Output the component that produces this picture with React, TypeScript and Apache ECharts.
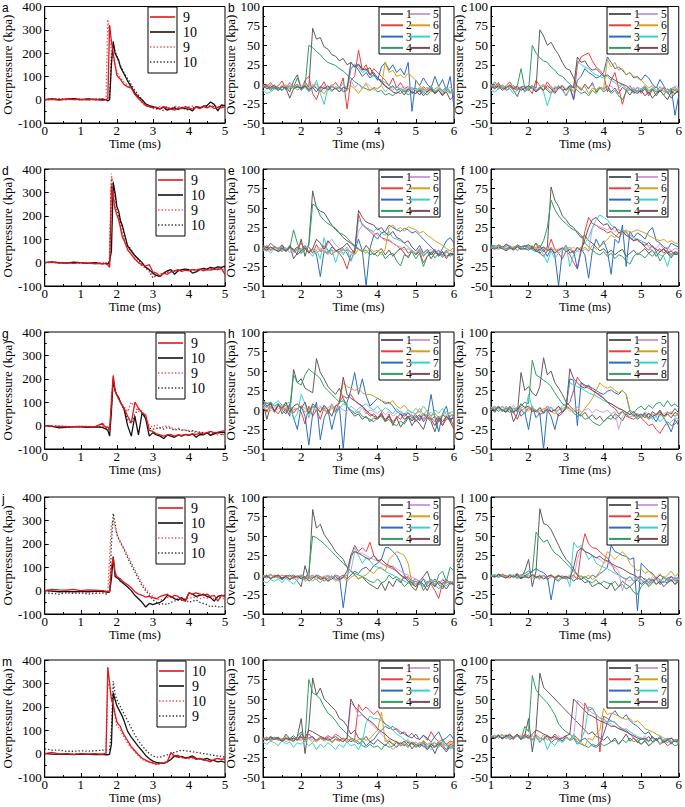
import React, { useEffect, useRef } from "react";
import * as echarts from "echarts";

// ---------- time samples ----------
const TA = [0,0.2,0.4,0.6,0.8,1,1.2,1.4,1.6,1.7,1.75,1.8,1.85,1.9,1.95,2,2.05,2.1,2.15,2.2,2.3,2.4,2.5,2.6,2.7,2.8,2.9,3,3.1,3.2,3.3,3.4,3.5,3.6,3.7,3.8,3.9,4,4.1,4.2,4.3,4.4,4.5,4.6,4.7,4.8,4.9,5];
const TB = [1,1.1,1.2,1.3,1.4,1.5,1.6,1.7,1.8,1.9,2,2.1,2.2,2.3,2.4,2.5,2.6,2.7,2.8,2.9,3,3.1,3.2,3.3,3.4,3.5,3.6,3.7,3.8,3.9,4,4.1,4.2,4.3,4.4,4.5,4.6,4.7,4.8,4.9,5,5.1,5.2,5.3,5.4,5.5,5.6,5.7,5.8,5.9,6];

// ---------- column 1 panels (a, d, g, j, m): red solid, black solid, red dotted, black dotted ----------
const A_RS = [0,2,-2,3,0,1,-1,2,-3, 0,5,320,250,200,150,105,95,88,75,65, 55,50,22,5,-10,-25,-30,-35,-32,-38,-30,-35,-40,-45,-35,-38,-30,-35,-40,-32,-38,-30,-35,-28,-38,-32,-35,-30];
const A_BS = [0,3,0,2,5,0,3,0,2, 0,-5,0,150,250,200,185,170,140,125,110, 80,55,28,12,0,-18,-25,-30,-35,-40,-32,-45,-38,-35,-42,-35,-38,-40,-48,-30,-35,-28,-25,-10,-20,-48,-22,-25];
const A_RD = [0,2,5,0,3,-2,5,0,2, 0,345,260,210,180,150,120,105,95,85,75, 62,52,30,10,-15,-25,-32,-30,-35,-28,-32,-30,-38,-30,-28,-32,-35,-30,-28,-32,-30,-35,-30,-28,-25,-30,-28,-32];
const A_BD = [0,2,3,0,4,2,0,3,1, 0,2,10,200,240,210,185,165,145,130,115, 90,65,40,20,0,-20,-30,-35,-40,-38,-48,-35,-40,-32,-38,-35,-40,-45,-35,-30,-35,-28,-30,-25,-30,-35,-28,-25];

const D_RS = [0,2,-2,0,-3,0,-2,-5,-3, -5,-10,-20,330,280,230,205,185,150,110,95, 55,35,15,0,-10,-15,-8,-40,-45,-58,-45,-50,-40,-35,-30,-38,-32,-35,-30,-32,-28,-35,-30,-32,-28,-30,-25,-50];
const D_BS = [0,3,0,-2,2,0,-3,0,-5, -2,-8,5,50,340,300,240,220,180,160,130, 70,50,30,15,0,-20,-30,-45,-55,-60,-45,-35,-30,-50,-35,-30,-28,-30,-45,-40,-30,-25,-28,-20,-25,-18,-20,-15];
const D_RD = [0,0,-2,0,-1,-3,0,-2,-4, -3,-5,20,380,300,240,200,180,150,120,100, 70,45,20,0,-15,-25,-40,-50,-55,-50,-45,-40,-35,-38,-30,-32,-28,-35,-30,-33,-28,-30,-32,-28,-30,-26,-28,-30];
const D_BD = [0,2,0,-1,0,-2,-1,-3,-2, -4,-6,10,360,345,280,230,200,170,140,115, 75,55,30,10,-5,-20,-35,-65,-55,-50,-45,-42,-38,-35,-32,-35,-30,-30,-32,-28,-30,-28,-26,-28,-25,-26,-24,-22];

const G_RS = [0,-2,-3,-5,-5,-3,-5,-4,10, -10,-5,-20,100,215,150,130,115,100,85,75, 40,10,100,75,55,45,-20,-25,-35,-40,-45,-40,-38,-45,-40,-42,-38,-40,-35,-38,-32,-35,-30,-25,-30,-28,-25,-22];
const G_BS = [0,-3,-10,-8,-5,-5,-8,-5,-8, -15,-20,-45,60,200,150,130,120,100,85,70, 0,-45,40,-40,55,30,-45,-30,-40,-45,-55,-40,-45,-50,-40,-45,-38,-42,-35,-50,-38,-40,-30,-42,-35,-30,-28,-30];
const G_RD = [0,0,-2,-3,-4,-3,-4,-5,0, -5,-8,-15,120,205,160,135,120,100,90,80, 60,100,80,60,50,40,0,-5,5,-10,-5,0,-8,-15,-12,-20,-18,-22,-25,-30,-28,-35,-30,-38,-35,-40,-35,-40];
const G_BD = [0,-2,-3,-5,-4,-5,-6,-4,-5, -8,-10,-20,80,190,150,130,115,100,85,72, 25,10,50,70,60,30,-10,-15,-12,-10,-15,-8,-12,-20,-15,-18,-20,-25,-22,-25,-28,-30,-32,-28,-35,-30,-38,-35];

const J_RS = [0,5,3,2,5,0,3,2,0, -2,-5,-5,100,140,80,60,55,50,42,35, 25,12,-5,-15,-20,-28,-25,-30,-35,-25,-20,-15,-30,-20,-25,-40,-45,-10,-15,-10,-15,-20,-15,-25,-20,-45,-20,-25];
const J_BS = [0,-2,-5,-3,-5,-3,-5,-2,-3, -5,-8,-5,50,145,60,55,50,40,35,28, 15,0,-20,-35,-50,-70,-55,-60,-55,-50,-40,-20,-25,-35,-40,-30,-45,-10,-15,-25,-20,-15,-25,-30,-45,-25,-20,-22];
const J_RD = [-5,-3,-5,-8,-5,-6,-5,-8,-5, -10,-8,150,280,300,270,245,225,210,195,180, 150,120,90,60,30,10,-10,-25,-35,-40,-38,-30,-28,-32,-35,-30,-35,-32,-30,-28,-35,-30,-32,-28,-35,-30,-33,-35];
const J_BD = [-10,-12,-15,-10,-12,-10,-15,-12,-10, -15,-12,-5,200,330,290,240,220,205,190,175, 140,110,80,50,20,0,-20,-40,-50,-60,-55,-60,-50,-45,-40,-42,-38,-50,-45,-40,-50,-55,-60,-70,-65,-70,-68,-70];

const M_RS = [0,5,-2,0,-3,0,-2,0,-3, 2,370,300,230,210,170,135,125,115,95,80, 55,30,12,-5,-20,-28,-35,-40,-45,-42,-40,-35,5,-10,-8,-15,-20,-18,-15,-25,-20,-28,-30,-35,-25,-20,-25,-22];
const M_BS = [0,-2,-3,-2,-4,-2,-3,-4,-3, -5,-5,-2,40,260,230,205,190,175,160,140, 95,70,50,30,12,-8,-22,-32,-38,-40,-42,-35,-25,-10,-15,-12,-18,-15,-10,-20,-22,-25,-20,-28,-30,-35,-32,-38];
const M_RD = [0,2,0,-2,0,-3,0,-2,0, 0,300,280,240,200,160,120,110,100,85,70, 45,25,8,-10,-25,-32,-38,-42,-48,-45,-40,-35,-10,-12,-15,-18,-20,-22,-20,-25,-22,-28,-25,-30,-25,-22,-25,-20];
const M_BD = [20,15,15,10,10,12,10,12,15, 15,15,18,100,310,255,230,215,200,185,170, 140,110,80,55,35,15,0,-10,-15,-15,-10,-5,0,5,10,15,12,10,8,5,3,0,-2,-5,-8,-10,-12,-15];

// ---------- multi-gauge panels: series 1..8 ----------
const B1 = [-3,-5,-2,-6,-4,-8,-3,-10,4,12, -6,3,-4,72,58,60,48,45,38,36, 30,33,25,28,22,26,20,18,21,12, 8,2,-3,-6,-2,-8,-5,-10,-6,-12, -8,-14,-6,-10,-4,-12,-8,-15,-6,-10, -5];
const B2 = [0,-3,2,-5,-2,4,-6,2,-4,0, -8,5,10,-12,-20,-5,3,-8,-3,2, -5,8,-32,5,10,44,18,25,12,20, 15,10,5,-2,8,-5,2,-6,-3,-8, -5,-10,-3,-8,-2,-12,-5,-8,-4,-10, -6];
const B3 = [-5,-2,-8,-4,-6,-3,-7,-2,-5,-4, -6,-3,-8,-2,-5,-10,-4,-8,-3,-6, -4,-10,-8,20,25,18,10,15,8,12, 5,22,28,18,25,15,20,12,28,-35, 5,-2,8,0,-5,10,-3,6,-8,10, -30];
const B4 = [-4,-2,-6,-3,-5,-8,-2,-6,-4,8, -5,-3,50,47,42,38,32,28,26,24, 20,17,12,8,3,0,-4,-6,-8,-5, -10,-8,-14,-12,-15,-10,-12,-8,-14,-10, -12,-6,-10,-14,-8,-12,-6,-10,-8,-12, -6];
const B5 = [-2,-5,0,-3,-6,-1,-4,2,-5,-2, -3,2,-6,0,-4,-8,-2,-5,0,-6, -3,-8,-2,5,-4,0,-6,2,-3,-8, -5,-2,-10,-4,-8,-2,-6,-3,-9,-5, -8,-4,-10,-6,-3,-9,-5,-12,-7,-4, -8];
const B6 = [-3,0,-5,-2,-6,-3,-1,-5,-2,-8, -4,-1,-6,-3,0,-8,-12,-5,-2,-6, -10,-4,-8,-2,-6,-12,-5,0,-8,-4, -6,-2,28,15,18,10,12,8,14,10, 5,-2,-8,-4,-10,-6,-3,-8,-5,-10, -6];
const B7 = [-8,-12,-10,-6,-8,-4,-6,-3,-5,-2, -8,-4,-10,-6,5,-12,-26,-5,-10,-3, -6,2,-8,20,26,22,15,18,12,10, 8,5,2,-2,-5,-3,-8,-6,-10,-4, -8,-5,-12,-6,-3,-10,-6,-8,-4,-10, -8];
const B8 = [-2,-6,-4,-1,-8,-3,-5,-18,-6,-3, -5,-2,-8,-4,-10,-3,-6,-2,-8,-5, -10,-4,-6,28,22,25,18,20,12,15, 8,4,-2,-6,-10,-12,-8,-14,-6,-10, -12,-8,-15,-10,-6,-12,-8,-14,-10,-20, -15];

const C1 = [-2,-5,0,-4,-6,-2,-8,-16,-4,-2, -8,-3,-5,70,62,50,54,45,38,28, 20,18,8,-3,-8,0,-6,2,-10,-4, -6,-2,-10,-5,-12,-4,-8,-14,-6,-10, -8,-3,-12,-6,-15,-8,-4,-10,-18,-12, -8];
const C2 = [0,-4,2,-6,-2,3,-5,-8,-3,-10, -6,-12,5,-2,-8,3,-4,-10,-2,-6, -15,-5,-20,25,35,38,40,30,22,18, 12,-10,5,15,-5,-26,-8,-2,-10,-4, -12,-6,-15,-8,-3,-10,-5,-12,-8,-6, -10];
const C3 = [-4,-2,-6,-3,-8,-5,-2,-6,-4,-8, -5,-3,-10,-6,-2,-8,-12,-5,-3,-8, -6,-2,-20,5,10,20,15,12,8,10, 15,35,28,20,22,18,12,15,8,10, 5,12,8,0,-5,6,-2,-10,-5,-40, -15];
const C4 = [-2,3,-4,-1,-5,-3,-6,-2,20,-5, -8,50,40,34,30,28,22,18,12,10, 5,0,-4,-8,-12,-10,-15,-8,-12,-5, -10,-6,-12,-8,-15,-20,-10,-6,-12,-8, -10,-4,-12,-6,-10,-8,-14,-6,-10,-8, -12];
const C5 = [-3,0,-5,-2,-6,-1,-4,-3,-7,-2, -5,-1,-8,-3,0,-6,-2,-9,-4,-1, -6,-3,-8,-2,-5,-10,-4,-1,-7,-3, -8,-4,-2,-9,-5,-1,-6,-3,-8,-4, -6,-2,-9,-5,-3,-8,-4,-10,-6,-2, -5];
const C6 = [-2,-5,-1,-4,-6,-2,-8,-3,-5,-10, -4,-2,-8,-6,-1,-5,-10,-3,-6,-2, -8,-4,-10,-2,-6,-3,-12,-5,-8,-4, -6,32,22,28,18,20,12,15,10,8, 5,0,-5,-2,-8,-4,-10,-6,-12,-8, -6];
const C7 = [-8,-10,-6,-4,-8,-6,-12,-8,-5,-10, -6,-3,-8,-5,-10,-28,-12,-6,-2,-8, -15,-5,-3,30,25,22,20,15,12,10, 8,10,5,2,-2,0,-5,-8,-4,-10, -6,-2,-8,-5,-10,-3,-8,-12,-6,-4, -8];
const C8 = [-3,-6,-2,-8,-4,-1,-6,-3,-8,-5, -2,-6,-10,-4,-8,-2,-6,-12,-5,-3, -8,-2,-5,35,28,30,22,18,20,15, 10,12,8,5,2,0,-2,-6,-10,-12, -8,-15,-10,-18,-12,-8,-14,-20,-10,-12, -8];

const E1 = [-2,0,-4,1,-3,-1,-5,2,-15,-8, 10,-12,5,72,50,46,44,36,28,22, 18,12,8,5,0,-3,-6,2,-4,-10, -6,-2,-10,-4,-12,-6,-2,-8,-14,-5, -10,-3,-12,-6,-15,-8,-4,-12,-6,-10, -8];
const E2 = [-3,2,-5,0,-2,3,-4,1,-6,-2, 5,-3,0,-8,3,-6,2,-4,-10,-5, -8,-15,-28,-10,-5,42,28,24,20,15, 18,12,10,8,5,2,-3,0,-8,-5, -10,-6,-20,-12,-8,-3,-10,-6,-12,-8, -10];
const E3 = [3,-2,5,0,-3,2,-5,1,-4,0, -3,2,-6,-2,-10,-38,-5,-8,0,-4, -6,-2,-8,-18,-5,10,-5,-50,-2,15, 10,18,20,28,25,22,20,24,22,18, 20,15,10,5,0,-5,-10,-2,8,12, 5];
const E4 = [-2,-4,0,-3,-5,-1,-6,-2,22,5, -8,-4,2,55,52,40,34,30,27,24, 18,16,12,6,2,-2,-6,-4,-10,-8, -12,-6,-15,-10,-8,-18,-24,-10,-12,-6, -15,-8,-25,-12,-6,-14,-8,-10,-4,-12, -8];
const E5 = [-2,-6,-1,-4,0,-5,-3,-2,-8,-4, -6,-2,0,-5,-3,-1,-8,5,10,3, -2,-5,0,-8,-3,20,28,25,22,18, 15,12,8,10,5,2,0,-4,-2,-6, -8,-4,-10,-6,-3,-8,-5,-12,-6,-4, -8];
const E6 = [0,-2,-4,1,-3,-6,-2,-1,-5,-3, -4,0,-6,-2,-8,-3,-5,-10,-4,-6, -2,-8,-4,-6,-10,-3,-5,-8,-2,-6, -4,-10,-3,25,28,22,25,20,26,24, 22,18,20,15,12,8,5,2,-2,-5, 0];
const E7 = [-5,-3,-8,-2,-6,-4,-1,-7,-3,-5, -8,-2,-6,-12,-4,-15,12,-8,-3,-20, -5,-10,-2,-18,-6,35,30,25,22,20, 25,18,15,20,12,10,8,5,0,-4, -8,-2,-12,-6,-10,-4,-8,-14,-6,-10, -12];
const E8 = [-1,-4,0,-3,-6,-2,-5,0,-3,-10, -5,-1,-8,-2,10,5,-3,8,2,-5, -3,0,5,-2,-8,47,38,32,30,28, 22,25,18,15,20,12,10,5,8,0, -5,2,-8,-3,-10,-5,-12,-6,-15,-8, -10];

const F1 = [2,-1,3,0,-2,1,-3,2,0,-2, 3,-1,-4,2,-6,0,77,60,52,40, 35,28,25,18,12,15,8,5,0,-5, -2,-8,-4,-10,-6,-3,-12,-8,-4,-10, -6,-2,-8,-4,-12,-6,-3,-8,-14,-6, -8];
const F2 = [1,-2,2,-1,3,0,-2,1,-3,2, 0,-3,5,-8,-12,-5,10,-3,-8,-15, -5,-10,-20,-28,-5,20,38,30,28,24, 22,18,20,15,12,18,20,12,8,10, 5,0,-4,2,-6,-2,-8,-4,-10,-6, -8];
const F3 = [3,0,2,-1,4,1,-2,3,0,2, -2,1,-5,-8,-3,-12,-2,-10,-50,-5, 2,-8,-5,-28,-2,-10,-40,-5,10,0, 8,-5,-35,10,5,28,-25,20,12,18, 15,10,20,25,8,5,0,-3,5,2, 0];
const F4 = [0,2,-2,1,-3,0,-1,2,-2,1, 3,-2,5,-1,8,25,60,48,40,34, 30,25,22,20,15,5,0,-4,-8,-10, -6,-12,-8,-15,-10,-12,-18,-22,-12,-8, -10,-14,-8,-12,-6,-18,-10,-6,-12,-8, -10];
const F5 = [-1,1,-2,0,-3,2,-1,-4,0,-2, 1,-3,0,-5,-2,-4,0,-6,-2,-4, -1,-3,0,-5,-8,-2,-6,25,28,26, 24,22,25,20,22,18,15,12,10,8, 5,6,2,0,-2,4,-3,0,-5,-2, -3];
const F6 = [0,-1,2,-2,1,-3,0,2,-1,-3, 0,2,-2,-4,0,-3,-6,-2,-5,-1, -3,0,-6,-2,-4,0,-5,2,-3,0, 5,10,15,12,18,20,22,18,20,22, 20,18,15,12,10,8,10,6,8,5, 4];
const F7 = [-2,0,-3,-1,-4,-2,0,-5,-1,-3, 0,-4,-6,-2,-10,-20,-5,-15,-8,-3, 2,-25,-10,-5,0,5,12,25,35,41, 38,35,28,25,22,20,18,15,12,10, 8,5,0,-5,-8,-10,-12,-25,-8,-10, -5];
const F8 = [-1,-3,0,-2,-5,-1,-4,0,-3,-2, -4,-1,-6,-3,0,-5,-2,-8,-4,-1, -6,-3,-8,0,-5,10,25,35,38,32, 28,30,22,26,18,20,15,12,8,10, 5,2,6,0,-3,-6,-2,-8,-5,-10, -8];

const H1 = [10,-12,5,-3,8,-5,2,-8,52,35, 40,28,25,22,66,48,40,30,25,20, 28,15,5,-2,-8,-5,-12,-8,-15,-10, -12,-5,-15,-8,-18,-10,-22,-15,-8,-20, -12,-18,-25,-10,-15,-28,-12,-20,-8,-15, -25];
const H2 = [5,-3,8,0,-5,3,-2,6,-4,2, -3,-18,5,-8,0,-12,3,-5,8,-2, 10,18,15,20,12,8,5,-2,-8,-5, -10,-3,-15,-5,-20,-8,-12,-4,-10,-6, -15,-8,-12,-5,-10,-15,-8,-20,-12,-10, -22];
const H3 = [8,3,10,-2,6,0,-5,8,-10,-25, 5,-8,-45,-5,10,-38,-10,0,-25,-5, 5,-50,10,25,48,20,40,18,5,10, 15,12,8,10,5,-2,-5,-8,-4,-10, -6,-12,-5,-8,20,-10,-28,-5,5,-15, -5];
const H4 = [12,8,10,5,8,3,6,2,45,35, 32,45,53,48,45,40,30,25,20,15, 10,12,5,0,-5,-2,-8,-10,-12,-15, -10,-8,-15,-12,-18,-20,-14,-18,-10,-12, -8,-14,-6,-10,-12,-8,-15,-6,-10,-8, -5];
const H5 = [2,5,-1,3,6,0,4,-2,3,1, 6,2,-3,4,0,5,-1,3,7,2, 4,0,-2,5,1,-3,3,-5,0,-2, -4,0,-6,-2,-8,-4,-1,-6,-3,-8, -5,-2,-10,-6,-3,-8,-12,-5,-8,-4, -10];
const H6 = [3,0,5,-2,2,6,-1,4,0,2, 5,-3,1,4,-2,3,0,-4,2,5, 8,35,30,28,25,28,22,20,20,18, 15,12,10,8,12,5,2,6,0,-3, -5,2,-6,0,-8,-4,-10,-6,-2,-8, -5];
const H7 = [5,10,3,8,12,6,8,10,-12,-5, 20,8,-10,5,3,-2,6,0,4,-5, 2,8,5,0,-3,2,5,8,3,0, 5,-2,3,0,-5,2,-3,-6,0,-4, 2,-3,5,-2,-8,0,-4,2,-6,-3, -2];
const H8 = [12,5,8,-2,6,2,10,-3,5,8, 2,10,-5,8,3,-3,6,0,-8,5, 10,42,20,15,12,8,5,0,-5,-8, -10,-6,-12,-8,-15,-10,-5,-12,-8,-14, -10,-6,-15,-8,-12,-20,-10,-15,-8,-12, -10];

const I1 = [2,-3,4,0,-2,3,-15,-5,48,25, 30,22,18,30,67,45,50,35,28,20, 10,5,0,-4,-8,-3,-10,-6,-12,-8, -15,-10,-6,-12,-8,-14,-5,-10,-6,-12, -8,-4,-10,-2,-6,0,-8,-3,-5,2, -4];
const I2 = [2,-1,3,0,-2,1,-3,-12,0,-5, 3,-2,0,-6,-3,5,-2,0,-8,-4, 5,10,25,42,35,30,28,25,22,20, 15,10,5,2,-5,-2,-8,-10,-12,-8, -10,-15,-20,-18,-25,-30,-22,-15,-20,-18, -12];
const I3 = [3,0,5,-2,2,0,-4,3,-8,-3, -25,5,-10,-4,-50,0,-8,-25,-5,-2, 2,40,38,-20,35,32,30,28,25,22, 20,24,26,22,20,25,20,-2,-8,-5, -10,-6,-12,-8,-15,-5,-10,-18,-28,-12, -20];
const I4 = [0,3,-2,5,0,-3,2,0,5,10, 8,64,45,42,38,35,30,22,15,8, 5,2,-4,-8,-6,-12,-10,-15,-18,-20, -15,-10,-12,-5,-8,-2,-6,0,-4,2, 5,0,6,2,8,10,4,12,5,8, 3];
const I5 = [3,5,1,4,0,2,6,-1,3,5, 1,4,-2,3,0,5,2,-1,4,0, 3,-2,1,4,-3,0,2,-4,1,-2, -3,0,-5,-2,-25,-8,-3,-10,-6,-4, -8,-2,-6,-10,-4,-8,-5,-2,-6,-8, -4];
const I6 = [4,2,5,0,3,1,-2,4,0,2, -1,3,0,-3,2,0,-2,-5,0,2, 4,1,-2,0,-5,2,8,15,25,35, 30,28,30,25,22,25,20,0,-5,-8, -10,-6,-12,-5,-8,-3,-10,-6,-2,-8, -6];
const I7 = [0,4,2,-2,5,0,3,-3,2,-5, 20,2,-3,0,-5,2,4,-2,0,5, 8,35,32,30,28,25,22,20,18,15, 12,10,8,5,2,0,-3,-5,-8,-10, -6,-10,-5,-12,-8,-15,-10,-20,-15,-10, -12];
const I8 = [2,-1,4,0,-3,5,-2,0,8,3, 5,0,-2,3,-4,1,-2,0,5,-3, 2,53,40,35,30,28,32,25,22,18, 15,10,8,5,2,0,-3,-6,-2,-8, -5,-10,-4,-8,-6,-2,-8,-5,-10,-3, -6];

const K1 = [-2,0,-4,-1,-3,-6,-2,-5,-3,-8, -15,12,-5,84,60,65,52,45,38,30, 25,20,10,5,0,-5,-2,-8,-12,-15, -18,-10,-20,-8,-15,-5,-10,-2,-8,-15, -20,-8,-2,5,-10,-5,-12,-18,-6,-10, -8];
const K2 = [-3,-1,-5,0,-2,-4,0,-6,-2,-4, -1,-5,-3,0,-6,-2,-8,-4,-1,-6, -3,0,-5,25,38,30,35,30,42,25, 20,15,12,10,8,5,0,-5,-2,-8, -5,-10,-15,-8,-12,-20,-30,-10,-8,-12, -10];
const K3 = [-2,-4,0,-3,-1,-5,-2,0,-4,-2, 0,-3,-1,-4,0,-2,-5,-1,-3,0, -2,-42,-5,0,5,2,8,10,5,12, 15,20,35,35,30,25,15,0,-5,-10, -8,-12,-5,-15,-10,-8,-12,-6,-10,-8, -12];
const K4 = [0,-2,1,-3,0,-4,-1,-2,0,-3, -1,-5,5,50,48,44,40,35,30,25, 20,15,10,5,2,0,-2,-5,-8,-10, -5,-10,-8,0,-5,-2,-8,-15,-10,-12, -15,-8,-20,-12,-5,-15,0,5,-8,10, 5];
const K5 = [-1,-3,0,-2,-4,0,-3,-1,-5,-2, 0,-4,-1,-3,0,-5,-2,0,-3,-1, -2,-4,0,5,30,28,28,25,22,20, 18,15,12,10,12,8,5,2,0,-3, -5,-8,-4,-10,-6,-8,-12,-5,-8,-10, -8];
const K6 = [-2,0,-4,-1,-3,0,-2,-5,-1,-3, -4,-6,-2,-8,-3,-5,-1,-6,-3,-8, -5,-2,-8,-3,0,-5,-2,0,5,2, 8,10,5,20,25,30,28,25,15,-10, -12,-8,-15,-10,-6,-12,-8,-15,-10,-8, -12];
const K7 = [-8,-10,-6,-8,-5,-10,-4,-8,-12,-6, -3,-8,-5,-2,-6,-10,-4,-8,-2,-5, -8,-3,0,20,35,25,15,22,18,12, 10,8,5,2,0,-3,-5,-8,-10,-6, -12,-8,-15,-10,-6,-12,-18,-10,-14,-8, -15];
const K8 = [-3,-1,-5,-2,0,-4,-2,-6,-3,-1, -5,-2,-8,-4,-1,-6,-3,-8,-5,-2, -6,-3,5,25,30,28,25,22,20,25, 18,20,15,12,10,5,0,-3,-8,-10, -15,-8,-12,-20,-10,-15,-8,-12,-18,-10, -12];

const L1 = [0,-2,1,-1,-3,0,-2,2,-4,5, 20,-15,5,85,66,64,58,48,38,28, 20,15,8,0,-5,-10,-8,-15,-12,-10, -15,-18,-10,-20,-15,-8,-12,-15,-10,-6, -12,-8,-15,-10,-5,-12,-8,-10,-6,-12, -5];
const L2 = [-2,0,-3,1,-1,-4,0,-2,-5,0, -3,1,-2,-4,0,-6,-2,-3,0,-5, -2,-4,0,-6,30,53,40,35,34,30, 25,22,15,5,0,-3,-6,-2,-8,-4, -6,-10,-5,-8,-3,-6,-10,-4,-2,-8, -5];
const L3 = [0,-2,1,-1,-3,0,-2,1,-4,-1, 2,5,8,5,3,-2,-32,-5,-8,-3, -5,-2,-8,-4,-6,-2,-5,0,-3,2, 5,10,38,30,28,25,24,20,22,-46, 15,10,5,2,-5,0,-3,-8,-2,-5, -3];
const L4 = [-1,0,-3,1,-2,0,-1,-3,0,2, 5,3,55,48,42,45,35,28,25,20, 15,10,5,0,-2,-5,-8,-10,-6,-12, -8,-10,-12,-8,-15,-12,-18,-15,-22,-25, -15,-10,-12,-8,-5,-10,-2,-6,-8,-4, -6];
const L5 = [-1,1,-2,0,-3,-1,0,-2,1,-3, 0,-2,-4,0,-1,-3,0,-5,-2,-1, -3,0,-4,20,35,30,28,25,22,20, 15,18,12,10,5,-20,-5,-8,-3,-6, -10,-4,-8,-2,-6,-10,-4,-8,-6,-3, -5];
const L6 = [-1,0,-2,1,-3,0,-1,-4,0,-2, -3,0,-4,-1,-5,-2,0,-3,-6,-1, -4,-2,0,-5,-1,-3,0,-6,-2,5, 15,30,25,20,25,30,25,15,10,5, 8,2,5,0,-3,2,-5,0,5,-2, 3];
const L7 = [-2,0,-3,-1,-4,0,-2,-5,-1,-3, 0,-4,-2,-6,-1,-3,0,-5,-2,-4, -1,-15,42,35,38,30,20,25,15,12, 10,8,5,2,0,-3,-5,-2,-8,-4, -6,-10,-4,-8,-12,-6,-10,-3,-8,-5, -6];
const L8 = [-1,-3,0,-2,-4,-1,-3,0,-5,-2, -4,0,-3,-1,-5,-2,0,-4,-1,-3, -2,-5,10,30,35,30,28,25,22,24, 20,18,15,12,10,8,5,2,0,-3, -2,-6,-10,-5,-12,-8,-15,-10,-6,-12, -8];

const N1 = [0,-3,1,-2,0,-4,5,-1,-3,2, 25,-20,15,77,55,64,50,45,40,35, 25,22,15,5,10,0,-3,2,-5,-8, -2,-6,-10,-4,-8,-12,-6,-10,-5,-14, -8,-12,-6,-15,-10,-20,-8,-12,-18,-10, -14];
const N2 = [-1,1,-3,0,-2,-4,0,-1,-3,0, 2,-2,5,0,-3,2,-1,3,0,5, 2,-3,0,-5,-2,43,35,40,35,30, 35,25,18,15,10,12,8,5,2,6, 0,-2,4,-3,8,0,-5,-2,-8,-4, -6];
const N3 = [0,-2,2,-1,1,-3,0,-1,3,-2, 1,-3,0,2,-4,0,-2,1,-5,-1, -3,0,-6,-2,-4,-8,-3,-10,-5,-2, 5,10,15,12,15,10,5,8,2,0, 5,-2,3,0,-5,2,8,-3,0,5, -2];
const N4 = [-2,0,-3,1,-1,-4,0,-2,-5,2, 8,-3,75,58,55,50,40,32,28,22, 15,10,5,0,-2,-5,-10,-12,-8,-12, -10,-15,-8,-12,-10,-6,-10,-8,-12,-5, -8,-10,-4,-12,-8,-6,-10,-4,-8,-12, -10];
const N5 = [-2,0,-4,-1,-3,0,-5,-2,0,-3, -1,-4,0,-2,-5,-1,-3,0,-6,-2, -4,-1,-5,45,40,28,30,25,20,15, 10,5,0,-8,-15,-10,-5,-8,-12,-6, -10,-5,-8,-12,-6,-10,-4,-8,-15,-10, -12];
const N6 = [-1,1,-2,0,-3,-1,2,-4,0,-2, -3,0,-1,-5,-2,0,-4,-1,-6,-2, -4,0,-3,-1,-5,-2,0,-3,-1,5, 10,33,-5,-2,-8,-4,-10,-6,-2,-8, -5,-10,-3,-8,-6,-12,-4,-8,-10,-6, -8];
const N7 = [-5,-8,-4,-6,-10,-3,-8,-5,-12,-6, -8,-4,-10,-6,-15,-8,-12,-6,-10,-15, -8,-12,-5,-10,-8,-15,-5,20,28,25, 25,22,18,15,10,5,2,-2,-5,-8, -10,-6,-12,-8,-15,-10,-12,-6,-10,-14, -12];
const N8 = [-1,-3,0,-2,0,-4,-1,-2,0,-3, 5,0,10,8,5,2,0,-3,-1,2, -2,-5,0,50,40,35,30,25,22,18, 12,8,5,0,-3,-5,-8,-4,-10,-6, -12,-8,-10,-15,-8,-12,-6,-10,-15,-8, -10];

const O1 = [2,-1,3,0,4,-2,1,5,-1,3, 25,-18,12,83,65,60,55,50,45,40, 35,30,25,20,15,10,5,8,2,0, -3,2,-5,0,-8,-2,5,-4,0,-6, 0,-3,2,-5,0,-8,-2,-6,0,-4, -2];
const O2 = [2,0,3,-1,4,1,-2,3,0,5, 2,-3,4,0,-2,3,-1,5,0,-4, 2,-2,4,0,-5,45,35,38,30,-18, 28,25,22,20,15,12,10,5,0,-5, -8,-3,-10,-6,-2,-8,-4,-10,-6,-3, -8];
const O3 = [3,1,4,0,2,5,-1,3,1,0, 4,-2,2,-5,0,3,-6,-2,0,-4, 2,-3,0,-8,-3,0,-5,-10,-12,-8, 5,20,30,35,28,25,30,22,18,15, 10,5,8,0,-3,2,-5,0,-8,-2, -3];
const O4 = [3,0,4,-1,2,5,0,3,-2,15, 8,80,62,55,50,45,38,30,18,12, 8,5,0,-5,-8,-10,-12,-8,-10,-6, -10,-8,-5,-3,-8,-2,-6,0,-5,-2, -8,-4,-10,-6,-2,-8,-5,-3,-6,-10, -8];
const O5 = [2,4,0,3,1,5,-1,2,4,0, 3,-1,2,0,-3,1,-2,0,3,-1, 2,-2,0,48,45,40,36,32,30,26, 22,20,18,15,12,10,8,5,2,0, -2,3,-5,0,-3,-8,-2,-6,0,-4, -3];
const O6 = [3,0,2,5,-1,3,1,4,0,2, -1,3,0,-2,4,-3,0,2,-5,0, 3,-4,0,-2,-6,-10,0,-3,5,10, 38,30,32,30,28,25,24,25,20,22, 18,12,10,8,5,3,0,-2,-4,-3, -6];
const O7 = [1,3,0,4,-1,2,0,3,-2,1, 0,-3,2,-6,0,-15,-5,-10,-2,-6, 0,-3,5,-8,-2,10,40,38,30,25, 25,20,22,20,15,10,12,8,5,2, 0,-2,-5,0,-3,2,-4,0,-5,-2, -4];
const O8 = [2,0,3,-1,2,4,0,5,-2,3, 0,5,10,8,5,3,0,2,-2,0, 3,5,50,45,40,35,30,28,25,22, 20,18,15,15,12,10,8,5,3,0, -2,0,-4,2,-3,0,-6,-2,0,-5, -3];

// ---------- legend labels ----------
const LEG_9_10 = ["9", "10", "9", "10"];
const LEG_10_9 = ["10", "9", "10", "9"];
const LEG_GAUGES = ["1", "2", "3", "4", "5", "6", "7", "8"];

// ---------- layout & style ----------
const ROW_TOP = [6, 169, 332, 497, 660];
const COL_LEFT = [34, 263, 491];
const PW = 191;
const PH = 117;
const LETTER_X = [2, 228, 461];
const SERIF = "Liberation Serif";
const SANS = "Liberation Sans";

const GAUGE_COLORS = ["#5c5c5c", "#e8413c", "#2b6cc2", "#2f9e62", "#c9a0dc", "#d5a01c", "#3ccfcf", "#7c4a5a"];
const A_STYLES = [
  { color: "#e3161c", dash: null as number[] | null },
  { color: "#111111", dash: null as number[] | null },
  { color: "#ef4f4f", dash: [1.4, 2] },
  { color: "#333333", dash: [1.4, 2] },
];

const PANELS_A = [
  { row: 0, letter: "a", data: [A_RS, A_BS, A_RD, A_BD], legend: LEG_9_10, lx: 114 },
  { row: 1, letter: "d", data: [D_RS, D_BS, D_RD, D_BD], legend: LEG_9_10, lx: 122 },
  { row: 2, letter: "g", data: [G_RS, G_BS, G_RD, G_BD], legend: LEG_9_10, lx: 122 },
  { row: 3, letter: "j", data: [J_RS, J_BS, J_RD, J_BD], legend: LEG_9_10, lx: 122 },
  { row: 4, letter: "m", data: [M_RS, M_BS, M_RD, M_BD], legend: LEG_10_9, lx: 123 },
];

const PANELS_G = [
  { row: 0, col: 1, letter: "b", data: [B1, B2, B3, B4, B5, B6, B7, B8] },
  { row: 0, col: 2, letter: "c", data: [C1, C2, C3, C4, C5, C6, C7, C8] },
  { row: 1, col: 1, letter: "e", data: [E1, E2, E3, E4, E5, E6, E7, E8] },
  { row: 1, col: 2, letter: "f", data: [F1, F2, F3, F4, F5, F6, F7, F8] },
  { row: 2, col: 1, letter: "h", data: [H1, H2, H3, H4, H5, H6, H7, H8] },
  { row: 2, col: 2, letter: "i", data: [I1, I2, I3, I4, I5, I6, I7, I8] },
  { row: 3, col: 1, letter: "k", data: [K1, K2, K3, K4, K5, K6, K7, K8] },
  { row: 3, col: 2, letter: "l", data: [L1, L2, L3, L4, L5, L6, L7, L8] },
  { row: 4, col: 1, letter: "n", data: [N1, N2, N3, N4, N5, N6, N7, N8] },
  { row: 4, col: 2, letter: "o", data: [O1, O2, O3, O4, O5, O6, O7, O8] },
];

function txt(text: string, x: number, y: number, size: number, family: string) {
  return {
    type: "text", z: 101, x, y,
    style: { text, fontSize: size, fontFamily: family, fill: "#000", align: "left", verticalAlign: "middle" },
  };
}

function buildOption() {
  const grid: any[] = [];
  const xAxis: any[] = [];
  const yAxis: any[] = [];
  const series: any[] = [];
  const graphic: any[] = [];

  for (let r = 0; r < 5; r++) {
    for (let c = 0; c < 3; c++) {
      const gi = r * 3 + c;
      const isA = c === 0;
      grid.push({
        left: COL_LEFT[c], top: ROW_TOP[r], width: PW, height: PH,
        show: true, borderColor: "#000", borderWidth: 1, backgroundColor: "rgba(0,0,0,0)",
      });
      xAxis.push({
        gridIndex: gi, type: "value", min: isA ? 0 : 1, max: isA ? 5 : 6, interval: 1,
        name: "Time (ms)", nameLocation: "middle", nameGap: 11,
        nameTextStyle: { fontFamily: SERIF, fontSize: 12.5, color: "#000" },
        axisLine: { show: true, onZero: false, lineStyle: { color: "#000", width: 1 } },
        axisTick: { show: true, inside: true, length: 4, lineStyle: { color: "#000" } },
        minorTick: { show: true, splitNumber: 2, length: 2, lineStyle: { color: "#000" } },
        splitLine: { show: false },
        axisLabel: { color: "#000", fontFamily: SERIF, fontSize: 13, margin: 1 },
      });
      yAxis.push({
        gridIndex: gi, type: "value", min: isA ? -100 : -50, max: isA ? 400 : 100, interval: isA ? 100 : 25,
        name: "Overpressure (kpa)", nameLocation: "middle", nameGap: isA ? 26.5 : 25,
        nameTextStyle: { fontFamily: SERIF, fontSize: 13, color: "#000" },
        axisLine: { show: true, onZero: false, lineStyle: { color: "#000", width: 1 } },
        axisTick: { show: true, inside: true, length: 4, lineStyle: { color: "#000" } },
        minorTick: { show: true, splitNumber: 2, length: 2, lineStyle: { color: "#000" } },
        splitLine: { show: false },
        axisLabel: { color: "#000", fontFamily: SERIF, fontSize: 13, margin: 3 },
      });
    }
  }

  // column-1 panels
  PANELS_A.forEach((p) => {
    const gi = p.row * 3;
    const L = COL_LEFT[0];
    const T = ROW_TOP[p.row];
    [3, 2, 1, 0].forEach((j) => {
      const st = A_STYLES[j];
      const arr = p.data[j];
      series.push({
        type: "line", xAxisIndex: gi, yAxisIndex: gi, symbol: "none", showSymbol: false, silent: true,
        data: TA.map((t, i) => [t, arr[i]]),
        lineStyle: { color: st.color, width: 1.3, type: st.dash ? st.dash : "solid" },
        itemStyle: { color: st.color },
      });
    });
    const bx = L + p.lx;
    graphic.push({
      type: "rect", z: 100, shape: { x: bx, y: T + 1, width: 29, height: 66 },
      style: { fill: "#fff", stroke: "#000", lineWidth: 1 },
    });
    for (let j = 0; j < 4; j++) {
      const y = T + 11 + 15 * j;
      const st = A_STYLES[j];
      graphic.push({
        type: "line", z: 101, shape: { x1: bx + 2, y1: y, x2: bx + 27, y2: y },
        style: { stroke: st.color, lineWidth: 1.6, lineDash: st.dash || undefined },
      });
      graphic.push(txt(p.legend[j], bx + 35, y, 14, SERIF));
    }
    graphic.push(txt(p.letter, LETTER_X[0], T + 2, 12, SANS));
  });

  // gauge panels
  PANELS_G.forEach((p) => {
    const gi = p.row * 3 + p.col;
    const L = COL_LEFT[p.col];
    const T = ROW_TOP[p.row];
    p.data.forEach((arr, j) => {
      series.push({
        type: "line", xAxisIndex: gi, yAxisIndex: gi, symbol: "none", showSymbol: false, silent: true,
        data: TB.map((t, i) => [t, arr[i]]),
        lineStyle: { color: GAUGE_COLORS[j], width: 1 },
        itemStyle: { color: GAUGE_COLORS[j] },
      });
    });
    graphic.push({
      type: "rect", z: 100, shape: { x: L + 116, y: T + 1, width: 61, height: 47 },
      style: { fill: "#fff", stroke: "#000", lineWidth: 1 },
    });
    for (let k = 0; k < 8; k++) {
      const colK = k < 4 ? 0 : 1;
      const rowK = k % 4;
      const y = T + 8 + 11.3 * rowK;
      const x1 = colK === 0 ? L + 118 : L + 147;
      const x2 = colK === 0 ? L + 140 : L + 167;
      const tx = colK === 0 ? L + 143 : L + 170;
      graphic.push({
        type: "line", z: 101, shape: { x1, y1: y, x2, y2: y },
        style: { stroke: GAUGE_COLORS[k], lineWidth: 2 },
      });
      graphic.push(txt(LEG_GAUGES[k], tx, y, 11.5, SERIF));
    }
    graphic.push(txt(p.letter, LETTER_X[p.col], T + 2, 12, SANS));
  });

  return { animation: false, backgroundColor: "#fff", textStyle: { fontFamily: SERIF }, grid, xAxis, yAxis, series, graphic };
}

export default function App() {
  const ref = useRef<HTMLDivElement>(null);
  useEffect(() => {
    if (!ref.current) return;
    const chart = echarts.init(ref.current, undefined, { renderer: "svg" });
    chart.setOption(buildOption() as any);
    return () => chart.dispose();
  }, []);
  return (
    <div
      ref={ref}
      style={{ position: "absolute", left: 0, top: 0, width: 685, height: 807, background: "#fff" }}
    />
  );
}
